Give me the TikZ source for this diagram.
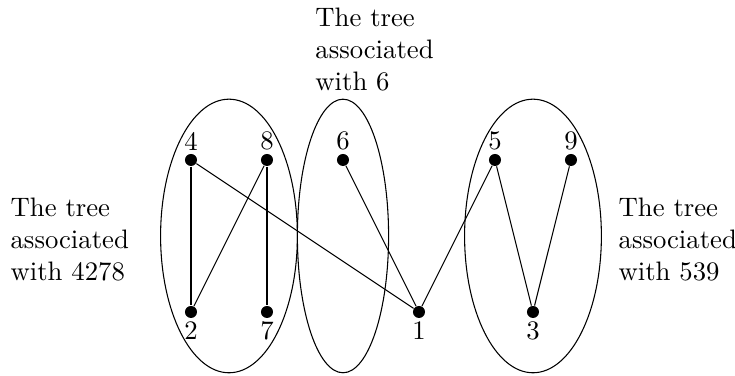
\documentclass[tikz,border=0pt]{standalone}
\usepackage{tikz}
\usetikzlibrary{positioning}

\begin{document}
\begin{tikzpicture}[
    vertex/.style={circle, fill=black, inner sep=0pt, minimum size=4.5pt},
    vlabel/.style={inner sep=1pt},
    caption/.style={align=left, inner sep=0pt, anchor=west}
]
\useasboundingbox (-2.513,-0.842) rectangle (7.158,4.105);

% Vertices
\node[vertex, label={[vlabel]above:4}] (v4) at (0,2) {};
\node[vertex, label={[vlabel]above:8}] (v8) at (1,2) {};
\node[vertex, label={[vlabel]above:6}] (v6) at (2,2) {};
\node[vertex, label={[vlabel]above:5}] (v5) at (4,2) {};
\node[vertex, label={[vlabel]above:9}] (v9) at (5,2) {};
\node[vertex, label={[vlabel]below:2}] (v2) at (0,0) {};
\node[vertex, label={[vlabel]below:7}] (v7) at (1,0) {};
\node[vertex, label={[vlabel]below:1}] (v1) at (3,0) {};
\node[vertex, label={[vlabel]below:3}] (v3) at (4.5,0) {};

% Edges
\draw (v4) -- (v2);
\draw (v4) -- (v1);
\draw (v8) -- (v2);
\draw (v8) -- (v7);
\draw (v6) -- (v1);
\draw (v1) -- (v5);
\draw (v5) -- (v3);
\draw (v9) -- (v3);

% Trees
\draw (0.5,1) ellipse (0.9 and 1.8);
\draw (2,1) ellipse (0.6 and 1.8);
\draw (4.5,1) ellipse (0.9 and 1.8);

% Captions
\node[caption] (c4278) at (-2.38,0.95) {The tree\\associated\\with 4278};
\node[caption] (c6) at (1.63,3.45) {The tree\\associated\\with 6};
\node[caption] (c539) at (5.62,0.95) {The tree\\associated\\with 539};

\end{tikzpicture}
\end{document}
